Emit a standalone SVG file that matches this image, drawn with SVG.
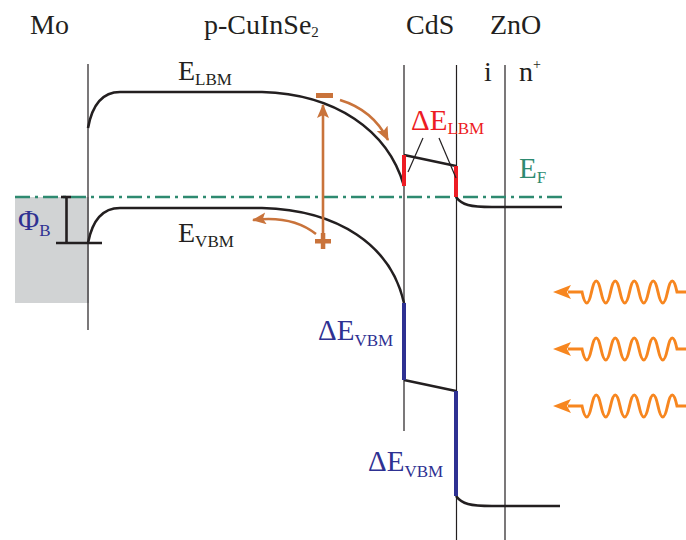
<svg xmlns="http://www.w3.org/2000/svg" width="686" height="540" viewBox="0 0 686 540">
<style>
text{font-family:"Liberation Serif","Times New Roman",serif;}
.lab{font-size:28px;fill:#231f20;}
.sub{font-size:17px;}
.vl{stroke:#231f20;stroke-width:1.2;fill:none;}
.band{stroke:#231f20;stroke-width:2.6;fill:none;}
.ef{stroke:#2e8a70;stroke-width:2.4;stroke-dasharray:15 5 3 5;fill:none;}
.car{stroke:#c9733b;stroke-width:2.6;fill:none;}
.wave{stroke:#f7861f;stroke-width:3;fill:none;}
</style>
<defs>
<marker id="ah" markerUnits="userSpaceOnUse" markerWidth="14" markerHeight="12" refX="13" refY="6" orient="auto">
<path d="M0,0 L14,6 L0,12 L3,6 z" fill="#c9733b"/>
</marker>
<g id="wv">
<path class="wave" d="M686,0 H677 q-4.75,-22 -9.5,0 q-4.75,22 -9.5,0 q-4.75,-22 -9.5,0 q-4.75,22 -9.5,0 q-4.75,-22 -9.5,0 q-4.75,22 -9.5,0 q-4.75,-22 -9.5,0 q-4.75,22 -9.5,0 q-4.75,-22 -9.5,0 q-4.75,22 -9.5,0 H568"/>
<path d="M553,0 L571,-7 L567,0 L571,7 z" fill="#f7861f"/>
</g>
</defs>

<g id="mo-region">
<rect x="15" y="197" width="74" height="106" fill="#d1d3d4"/>
</g>

<g id="interfaces">
<line class="vl" x1="88" y1="64" x2="88" y2="330"/>
<line class="vl" x1="404" y1="65" x2="404" y2="431"/>
<line class="vl" x1="456.5" y1="65" x2="456.5" y2="540"/>
<line class="vl" x1="505" y1="65" x2="505" y2="540"/>
</g>

<g id="fermi-level">
<line class="ef" x1="15" y1="197" x2="562" y2="197"/>
</g>

<g id="conduction-band">
<path class="band" d="M88,128 C92,106 101,92 120,92 L262,92 C335,94 388,130 404,186"/>
<path class="band" d="M404,155 L456,166"/>
<path class="band" d="M456,197 C462,205 470,207 492,207 L562,207"/>
<line stroke="#ed1c24" stroke-width="4" x1="404" y1="155" x2="404" y2="186"/>
<line stroke="#ed1c24" stroke-width="4" x1="456" y1="166" x2="456" y2="197"/>
</g>

<g id="valence-band">
<path class="band" d="M88,243 C92,222 101,208 120,208 L262,208 C338,210 391,245 404,303"/>
<path class="band" d="M404,380 L456,391"/>
<path class="band" d="M456,496 C462,504 470,506 492,506 L560,506"/>
<line stroke="#2e3192" stroke-width="4" x1="404" y1="303" x2="404" y2="380"/>
<line stroke="#2e3192" stroke-width="4" x1="456" y1="391" x2="456" y2="496"/>
</g>

<g id="barrier">
<line class="band" stroke-width="1.6" x1="66.5" y1="197" x2="66.5" y2="243"/>
<line class="band" stroke-width="1.6" x1="56" y1="243" x2="102" y2="243"/>
<line class="band" stroke-width="1.6" x1="61" y1="197" x2="71" y2="197"/>
<text x="18" y="230" font-size="29" fill="#2e3192">Φ<tspan class="sub" dy="6">B</tspan></text>
</g>

<g id="carriers">
<rect x="316" y="93" width="17" height="5" fill="#c9733b"/>
<rect x="315" y="239" width="16" height="4.5" fill="#c9733b"/>
<rect x="320.8" y="233" width="4.5" height="16" fill="#c9733b"/>
</g>

<g id="connectors">
<line class="car" x1="323" y1="236" x2="323" y2="105" marker-end="url(#ah)"/>
<path class="car" d="M340,100 Q373,110 388,140" marker-end="url(#ah)"/>
<path class="car" d="M316,234 Q292,215 253,220" marker-end="url(#ah)"/>
<line stroke="#231f20" stroke-width="1.2" x1="423" y1="138" x2="408" y2="172"/>
<line stroke="#231f20" stroke-width="1.2" x1="439" y1="138" x2="456" y2="178"/>
</g>

<g id="light">
<use href="#wv" y="292"/>
<use href="#wv" y="349"/>
<use href="#wv" y="406"/>
</g>

<g id="labels">
<text class="lab" x="30" y="34">Mo</text>
<text class="lab" x="204" y="34">p-CuInSe<tspan font-size="15" dy="3">2</tspan></text>
<text class="lab" x="406" y="34">CdS</text>
<text class="lab" x="490" y="34">ZnO</text>
<text class="lab" x="484" y="81">i</text>
<text class="lab" x="519" y="81">n<tspan font-size="14" dy="-12">+</tspan></text>
<text class="lab" x="178" y="80">E<tspan class="sub" dy="5">LBM</tspan></text>
<text class="lab" x="178" y="242">E<tspan class="sub" dy="5">VBM</tspan></text>
<text x="411" y="130" font-size="29" fill="#ed1c24">ΔE<tspan class="sub" dy="4">LBM</tspan></text>
<text x="519" y="178" font-size="29" fill="#2e8a70">E<tspan class="sub" dy="5">F</tspan></text>
<text x="318" y="340" font-size="29" fill="#2e3192">ΔE<tspan class="sub" dy="6">VBM</tspan></text>
<text x="368" y="471" font-size="29" fill="#2e3192">ΔE<tspan class="sub" dy="6">VBM</tspan></text>
</g>
</svg>
